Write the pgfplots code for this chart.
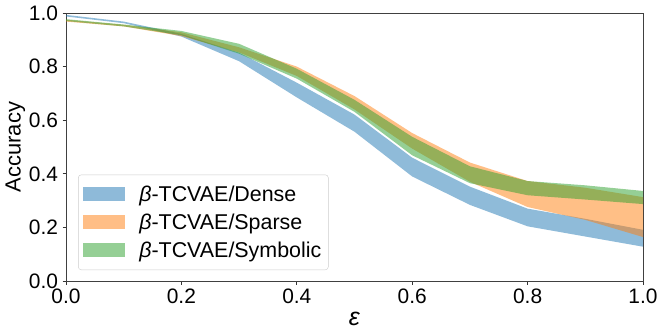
\documentclass[border=0pt]{standalone}
\usepackage{fontspec}
\setmainfont{Liberation Sans}
\usepackage{pgfplots}
\usepackage{pgfplotstable}
\pgfplotsset{compat=1.18}
\usepgfplotslibrary{fillbetween}
\definecolor{tabblue}{HTML}{1F77B4}
\definecolor{taborange}{HTML}{FF7F0E}
\definecolor{tabgreen}{HTML}{2CA02C}

% x, lower and upper edge of each band
\pgfplotstableread{
x   lo    hi
0.0 0.987 0.993
0.1 0.962 0.968
0.2 0.912 0.922
0.3 0.820 0.852
0.4 0.685 0.740
0.5 0.557 0.621
0.6 0.390 0.460
0.7 0.284 0.352
0.8 0.204 0.270
0.9 0.166 0.232
1.0 0.128 0.191
}\tdense
\pgfplotstableread{
x   lo    hi
0.0 0.968 0.975
0.1 0.950 0.956
0.2 0.914 0.928
0.3 0.853 0.872
0.4 0.765 0.800
0.5 0.640 0.690
0.6 0.494 0.552
0.7 0.370 0.442
0.8 0.276 0.373
0.9 0.228 0.348
1.0 0.164 0.313
}\tsparse
\pgfplotstableread{
x   lo    hi
0.0 0.970 0.977
0.1 0.950 0.957
0.2 0.917 0.933
0.3 0.848 0.885
0.4 0.755 0.792
0.5 0.631 0.676
0.6 0.469 0.538
0.7 0.365 0.428
0.8 0.320 0.373
0.9 0.304 0.357
1.0 0.287 0.336
}\tsymbolic

\pgfplotsset{
  /pgfplots/area legend/.style={
    /pgfplots/legend image code/.code={\fill[##1,draw=none,sharp corners] (0bp,-7bp) rectangle (42bp,7bp);}},
}
\tikzset{band/.style={draw=none,fill=#1,fill opacity=0.5}}

\begin{document}
\begin{tikzpicture}
\begin{axis}[
  scale only axis,
  width=577bp,
  height=268bp,
  xmin=0, xmax=1,
  ymin=0, ymax=1,
  xtick={0,0.2,0.4,0.6,0.8,1.0},
  ytick={0,0.2,0.4,0.6,0.8,1.0},
  tick pos=left,
  tick align=outside,
  major tick length=3.5bp,
  every tick/.style={black!80,line width=0.8pt},
  axis line style={black!75,line width=0.8pt},
  tick label style={font=\fontsize{21}{24}\selectfont,
    /pgf/number format/assume math mode=true,
    /pgf/number format/fixed,
    /pgf/number format/fixed zerofill,
    /pgf/number format/precision=1},
  xticklabel style={yshift=-1bp},
  yticklabel style={xshift=-1bp},
  ylabel={Accuracy},
  ylabel style={font=\fontsize{22}{25}\selectfont,yshift=-3bp},
  xlabel={\textit{ε}},
  xlabel style={font=\fontsize{25}{28}\selectfont,yshift=-1bp},
  legend cell align=left,
  legend style={
    at={(0.021,0.041)},anchor=south west,
    draw=black!20,rounded corners=3pt,fill=white,
    font=\fontsize{21.5}{24}\selectfont,
    row sep=7bp,inner xsep=5bp,inner ysep=9bp,
    /tikz/every odd column/.style={column sep=12bp},
  },
]
\addplot[name path=dl,draw=none,forget plot] table[x=x,y=lo]{\tdense};
\addplot[name path=dh,draw=none,forget plot] table[x=x,y=hi]{\tdense};
\addplot[band=tabblue] fill between[of=dl and dh];
\addlegendentry{\textit{β}-TCVAE/Dense}

\addplot[name path=sl,draw=none,forget plot] table[x=x,y=lo]{\tsparse};
\addplot[name path=sh,draw=none,forget plot] table[x=x,y=hi]{\tsparse};
\addplot[band=taborange] fill between[of=sl and sh];
\addlegendentry{\textit{β}-TCVAE/Sparse}

\addplot[name path=gl,draw=none,forget plot] table[x=x,y=lo]{\tsymbolic};
\addplot[name path=gh,draw=none,forget plot] table[x=x,y=hi]{\tsymbolic};
\addplot[band=tabgreen] fill between[of=gl and gh];
\addlegendentry{\textit{β}-TCVAE/Symbolic}
\end{axis}
\pgfresetboundingbox
\path[use as bounding box] (-66bp,-54bp) rectangle (598bp,281bp);
\end{tikzpicture}
\end{document}
